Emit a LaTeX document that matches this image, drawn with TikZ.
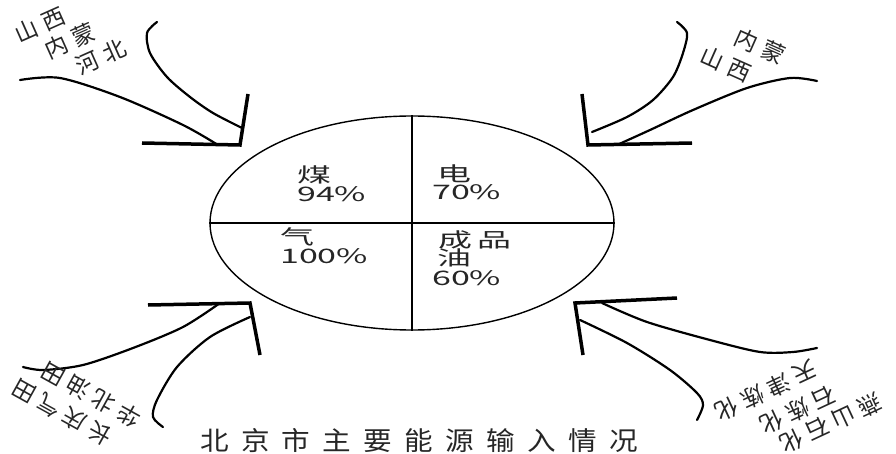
\documentclass[tikz,border=0pt]{standalone}
\usepackage{fontspec}
\newfontfamily\cjk{Noto Sans CJK SC}
\newfontfamily\cjklab[LetterSpace=25]{Noto Sans CJK SC}
\newfontfamily\cjktitle[LetterSpace=43]{Noto Sans CJK SC}
\usetikzlibrary{shapes.geometric}
\newcommand{\wide}[1]{\scalebox{1.7}[1]{#1}}
\begin{document}
\begin{tikzpicture}[x=1pt, y=-1pt,
    bar/.style={line width=3.5pt},
    curve/.style={line width=2.2pt, line cap=round},
    txt/.style={anchor=west, inner sep=0pt, font=\cjk\fontsize{20}{20}\selectfont, text=black!85},
    src/.style={inner sep=0pt, font=\cjklab\fontsize{23}{23}\selectfont, text=black!85}]
    \useasboundingbox (0,0) rectangle (896,454);
    \node[draw, ellipse, line width=1.4pt, minimum width=404pt, minimum height=214pt, inner sep=0pt] (pie) at (412,223) {};
    \draw[line width=2pt] (pie.north) -- (pie.south);
    \draw[line width=2pt] (pie.west) -- (pie.east);
    \node[txt] (coal) at (297,175) {\wide{煤}};
    \node[txt] (coalp) at (297,194) {\wide{94\%}};
    \node[txt] (elec) at (437,174) {\wide{电}};
    \node[txt] (elecp) at (432,192) {\wide{70\%}};
    \node[txt] (gas) at (280,237) {\wide{气}};
    \node[txt] (gasp) at (280,256) {\wide{100\%}};
    \node[txt] (oil) at (438,240) {\wide{成\hspace{3pt}品}};
    \node[txt] (oil2) at (437,258) {\wide{油}};
    \node[txt] (oilp) at (432,278) {\wide{60\%}};
    % top left
    \coordinate (tlc) at (240,145);
    \coordinate (tlv) at (248,94);
    \coordinate (tlh) at (142,143);
    \draw[bar] (tlv) -- (tlc) -- (tlh);
    \draw[curve] plot[smooth] coordinates {(20,80) (60,78) (120,97) (183,125) (218,145)};
    \draw[curve] plot[smooth] coordinates {(157,22) (147,33) (150,53) (167,77) (190,97) (213,113) (242,128)};
    \node[src, rotate=24] (tl1) at (40,25) {山西};
    \node[src, rotate=24] (tl2) at (70,41) {内蒙};
    \node[src, rotate=24] (tl3) at (101,57) {河北};
    % top right
    \coordinate (trc) at (588,145);
    \coordinate (trv) at (582,94);
    \coordinate (trh) at (692,143);
    \draw[bar] (trv) -- (trc) -- (trh);
    \draw[curve] plot[smooth] coordinates {(677,22) (687,33) (683,53) (673,77) (653,100) (627,117) (592,132)};
    \draw[curve] plot[smooth] coordinates {(817,81) (790,78) (747,88) (693,110) (650,130) (617,145)};
    \node[src, rotate=-24] (tr1) at (760,46) {内蒙};
    \node[src, rotate=-24] (tr2) at (726,64) {山西};
    % bottom left
    \coordinate (blc) at (250,303);
    \coordinate (blv) at (260,355);
    \coordinate (blh) at (148,305);
    \draw[bar] (blv) -- (blc) -- (blh);
    \draw[curve] plot[smooth] coordinates {(23,367) (43,370) (83,365) (133,348) (183,327) (220,303)};
    \draw[curve] plot[smooth] coordinates {(163,427) (153,417) (157,400) (177,367) (210,337) (250,317)};
    \node[src, rotate=151] (bl1) at (91,395) {华北油田};
    \node[src, rotate=151] (bl2) at (62,413) {长庆气田};
    % bottom right
    \coordinate (brc) at (575,303);
    \coordinate (brv) at (583,355);
    \coordinate (brh) at (677,298);
    \draw[bar] (brv) -- (brc) -- (brh);
    \draw[curve] plot[smooth] coordinates {(602,303) (647,322) (710,340) (760,352) (793,352) (817,348)};
    \draw[curve] plot[smooth] coordinates {(580,320) (627,343) (670,370) (697,393) (703,405) (697,420)};
    \node[src, rotate=205] (br1) at (766,391) {天津炼化};
    \node[src, rotate=205] (br2) at (798,410) {石炼化};
    \node[src, rotate=205] (br3) at (831,423) {燕山石化};
    \node[anchor=west, inner sep=0pt, font=\cjktitle\fontsize{26}{26}\selectfont, text=black!85] (title) at (200,441) {\scalebox{1.1}[1]{北京市主要能源输入情况}};
\end{tikzpicture}
\end{document}
